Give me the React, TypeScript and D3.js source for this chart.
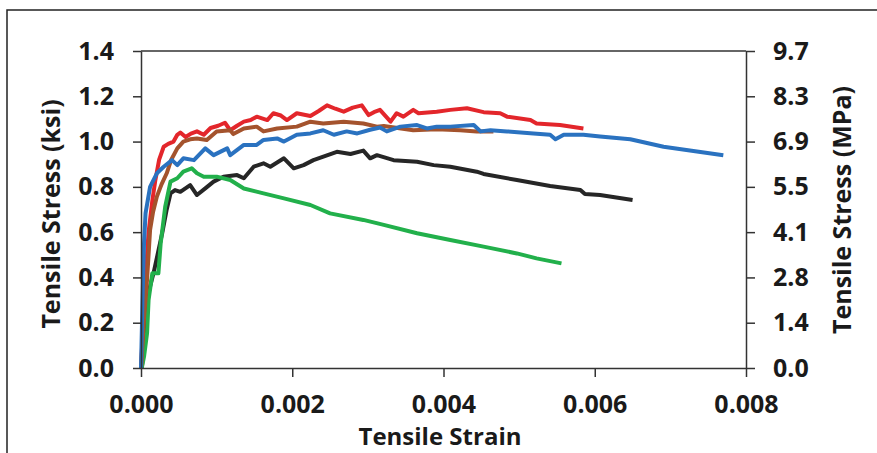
import React, { useEffect, useRef } from 'react';
import { select, scaleLinear, axisLeft, axisRight, axisBottom, line } from 'd3';

// strain, stress (ksi)
const redCurve: [number, number][] = [
  [0, 0], [0.00003, 0.2], [0.00006, 0.4], [0.0001, 0.6], [0.00015, 0.74], [0.00019, 0.83],
  [0.00024, 0.92], [0.0003, 0.977], [0.00036, 0.99], [0.00043, 1.0], [0.00048, 1.03],
  [0.00052, 1.04], [0.00059, 1.02], [0.00066, 1.035], [0.00074, 1.045], [0.00083, 1.03],
  [0.00092, 1.06], [0.00102, 1.07], [0.00111, 1.083], [0.00118, 1.05], [0.00127, 1.07],
  [0.00136, 1.088], [0.00145, 1.095], [0.00153, 1.11], [0.00167, 1.095], [0.00175, 1.125],
  [0.00185, 1.115], [0.00193, 1.095], [0.00206, 1.125], [0.00224, 1.113], [0.00235, 1.135],
  [0.00246, 1.16], [0.00257, 1.145], [0.00268, 1.132], [0.0028, 1.15], [0.00292, 1.16],
  [0.00301, 1.117], [0.00308, 1.13], [0.00316, 1.14], [0.0033, 1.088], [0.00338, 1.125],
  [0.00347, 1.11], [0.0036, 1.14], [0.00367, 1.125], [0.00391, 1.132], [0.00409, 1.14],
  [0.00431, 1.147], [0.00453, 1.13], [0.00475, 1.125], [0.00484, 1.11], [0.00515, 1.095],
  [0.00523, 1.08], [0.00554, 1.073], [0.00585, 1.058]
];

const brownCurve: [number, number][] = [
  [0, 0], [0.00004, 0.22], [0.00008, 0.39], [0.00012, 0.61], [0.00016, 0.69], [0.00021, 0.757],
  [0.00027, 0.81], [0.00034, 0.86], [0.0004, 0.92], [0.00048, 0.97], [0.00056, 1.0],
  [0.00065, 1.01], [0.00074, 1.014], [0.00087, 1.007], [0.001, 1.045], [0.00118, 1.05],
  [0.00122, 1.033], [0.00136, 1.058], [0.00153, 1.066], [0.00162, 1.045], [0.0018, 1.058],
  [0.00206, 1.066], [0.00224, 1.088], [0.00241, 1.08], [0.00268, 1.088], [0.00294, 1.08],
  [0.00312, 1.066], [0.00321, 1.069], [0.0036, 1.05], [0.00391, 1.054], [0.00422, 1.05],
  [0.00444, 1.045], [0.00466, 1.045]
];

const blueCurve: [number, number][] = [
  [0, 0], [0.00002, 0.3], [0.00004, 0.55], [0.00006, 0.683], [0.00012, 0.8], [0.00021, 0.86],
  [0.0003, 0.889], [0.00041, 0.918], [0.00048, 0.896], [0.00056, 0.926], [0.0007, 0.918],
  [0.00085, 0.97], [0.00096, 0.94], [0.00114, 0.97], [0.00118, 0.94], [0.00136, 0.985],
  [0.00153, 0.985], [0.00162, 1.007], [0.0018, 1.014], [0.00189, 1.0], [0.00206, 1.03],
  [0.00224, 1.036], [0.00241, 1.05], [0.00255, 1.03], [0.00272, 1.045], [0.00286, 1.036],
  [0.00303, 1.052], [0.00316, 1.062], [0.00325, 1.045], [0.00343, 1.066], [0.00365, 1.073],
  [0.00378, 1.058], [0.00391, 1.066], [0.00409, 1.066], [0.0044, 1.073], [0.00449, 1.045],
  [0.00462, 1.05], [0.00484, 1.045], [0.00519, 1.036], [0.00541, 1.03], [0.00548, 1.01],
  [0.00559, 1.03], [0.00585, 1.03], [0.00607, 1.022], [0.00647, 1.01], [0.00691, 0.977],
  [0.0077, 0.94]
];

const blackCurve: [number, number][] = [
  [0.00001, 0], [0.00004, 0.1], [0.00006, 0.2], [0.00008, 0.3], [0.00012, 0.36],
  [0.00017, 0.425], [0.00028, 0.595], [0.00034, 0.7], [0.00039, 0.771], [0.00045, 0.786],
  [0.00052, 0.778], [0.00065, 0.808], [0.00074, 0.764], [0.00085, 0.793], [0.00096, 0.823],
  [0.00109, 0.845], [0.00127, 0.852], [0.00136, 0.838], [0.00149, 0.889], [0.00162, 0.904],
  [0.00171, 0.889], [0.00189, 0.926], [0.00202, 0.882], [0.00215, 0.896], [0.00228, 0.918],
  [0.00259, 0.955], [0.00277, 0.945], [0.00294, 0.96], [0.00303, 0.926], [0.00312, 0.94],
  [0.00334, 0.918], [0.00365, 0.911], [0.00387, 0.896], [0.00409, 0.889], [0.00444, 0.867],
  [0.00453, 0.857], [0.00497, 0.83], [0.00541, 0.804], [0.00581, 0.786], [0.00587, 0.768],
  [0.00607, 0.764], [0.0065, 0.742]
];

const greenCurve: [number, number][] = [
  [0.00001, 0], [0.00004, 0.05], [0.00008, 0.153], [0.0001, 0.3], [0.00015, 0.418],
  [0.00023, 0.418], [0.00026, 0.55], [0.00032, 0.712], [0.00039, 0.823], [0.00048, 0.838],
  [0.00056, 0.867], [0.00067, 0.882], [0.00074, 0.86], [0.00083, 0.845], [0.001, 0.845],
  [0.00118, 0.83], [0.00136, 0.793], [0.00162, 0.771], [0.00189, 0.749], [0.00224, 0.72],
  [0.0025, 0.683], [0.00294, 0.654], [0.00321, 0.632], [0.00365, 0.595], [0.00409, 0.565],
  [0.00453, 0.536], [0.00497, 0.506], [0.00523, 0.484], [0.00556, 0.462]
];

const xTicks = [0, 0.002, 0.004, 0.006, 0.008];
const ksiTicks = [0, 0.2, 0.4, 0.6, 0.8, 1.0, 1.2, 1.4];
const mpaTickLabels = ['0.0', '1.4', '2.8', '4.1', '5.5', '6.9', '8.3', '9.7'];

const series = [
  { data: blackCurve, color: '#262626' },
  { data: greenCurve, color: '#22b04b' },
  { data: redCurve, color: '#e3262b' },
  { data: brownCurve, color: '#a4532d' },
  { data: blueCurve, color: '#2a72c0' }
];

const canvasWidth = 877;
const canvasHeight = 453;
const margin = { top: 51, left: 141, right: 131, bottom: 85 };
const font = '"Open Sans", sans-serif';

function StressStrainChart() {
  const svgRef = useRef<SVGSVGElement>(null);

  useEffect(() => {
    const svg = select(svgRef.current);
    svg.selectAll('*').remove();

    const x = scaleLinear().domain([0, 0.008]).range([margin.left, canvasWidth - margin.right]);
    const y = scaleLinear().domain([0, 1.4]).range([canvasHeight - margin.bottom, margin.top]);

    // outer frame
    svg.append('rect')
      .attr('x', 7).attr('y', 10)
      .attr('width', 900).attr('height', 500)
      .attr('fill', 'none').attr('stroke', '#222').attr('stroke-width', 1.5);

    // top border of the plot
    svg.append('line')
      .attr('x1', x(0)).attr('x2', x(0.008))
      .attr('y1', y(1.4)).attr('y2', y(1.4))
      .attr('stroke', '#333').attr('stroke-width', 1.5);

    const path = line<[number, number]>()
      .x(d => x(d[0]))
      .y(d => y(d[1]));

    series.forEach(s => {
      svg.append('path')
        .attr('d', path(s.data))
        .attr('fill', 'none')
        .attr('stroke', s.color)
        .attr('stroke-width', 4)
        .attr('stroke-linejoin', 'round');
    });

    const gLeft = svg.append('g')
      .attr('transform', `translate(${x(0)},0)`)
      .call(axisLeft(y).tickValues(ksiTicks).tickFormat(d => (+d).toFixed(1)).tickSize(8).tickSizeOuter(0).tickPadding(19));

    const yMpa = y.copy();
    const gRight = svg.append('g')
      .attr('transform', `translate(${x(0.008)},0)`)
      .call(axisRight(yMpa).tickValues(ksiTicks).tickFormat((d, i) => mpaTickLabels[i]).tickSize(9).tickSizeOuter(0).tickPadding(18));

    const gBottom = svg.append('g')
      .attr('transform', `translate(0,${y(0)})`)
      .call(axisBottom(x).tickValues(xTicks).tickFormat(d => (+d).toFixed(3)).tickSize(9).tickSizeOuter(0).tickPadding(18));

    [gLeft, gRight, gBottom].forEach(g => {
      g.selectAll('path').attr('stroke', '#333').attr('stroke-width', 1.5);
      g.selectAll('line').attr('stroke', '#333').attr('stroke-width', 1.5);
      g.selectAll('text')
        .attr('font-family', font)
        .attr('font-weight', 700)
        .attr('font-size', 25)
        .attr('fill', '#1a1a1a');
    });

    svg.append('text')
      .attr('x', 440).attr('y', 445)
      .attr('text-anchor', 'middle')
      .attr('font-family', font).attr('font-weight', 700).attr('font-size', 24)
      .attr('fill', '#1a1a1a')
      .text('Tensile Strain');

    svg.append('text')
      .attr('transform', 'translate(60,214) rotate(-90)')
      .attr('text-anchor', 'middle')
      .attr('font-family', font).attr('font-weight', 700).attr('font-size', 25)
      .attr('fill', '#1a1a1a')
      .text('Tensile Stress (ksi)');

    svg.append('text')
      .attr('transform', 'translate(851,210) rotate(-90)')
      .attr('text-anchor', 'middle')
      .attr('font-family', font).attr('font-weight', 700).attr('font-size', 25)
      .attr('fill', '#1a1a1a')
      .text('Tensile Stress (MPa)');
  }, []);

  return (
    <svg
      ref={svgRef}
      width={canvasWidth}
      height={canvasHeight}
      style={{ position: 'absolute', left: 0, top: 0, background: '#fff' }}
    />
  );
}

export default function App() {
  return <StressStrainChart />;
}
